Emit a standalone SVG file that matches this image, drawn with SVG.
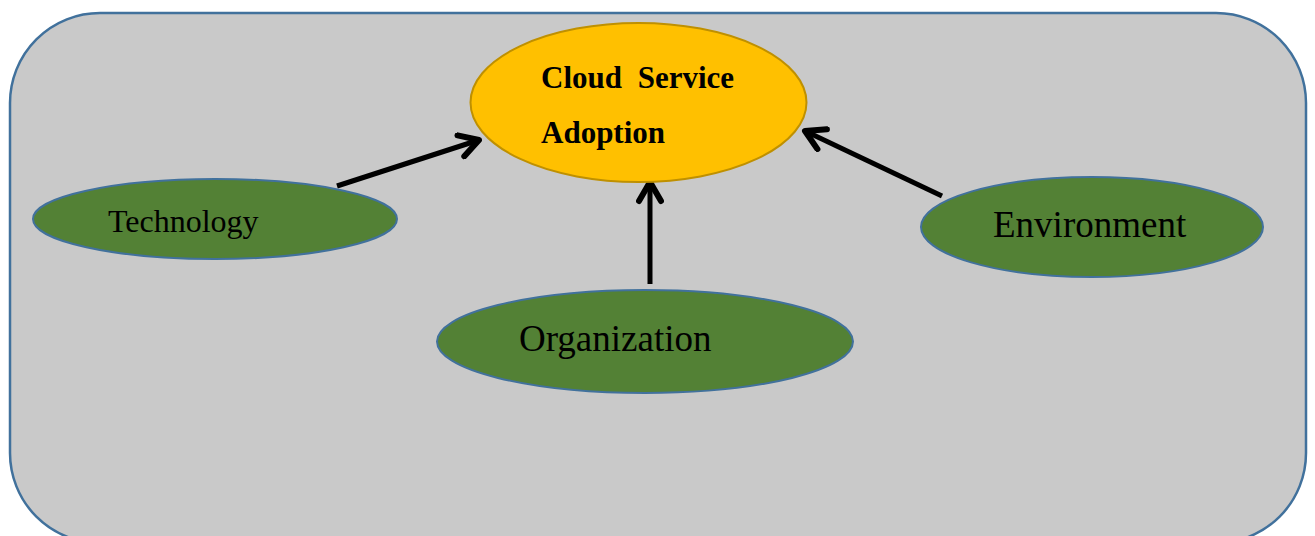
<svg xmlns="http://www.w3.org/2000/svg" width="1315" height="536" viewBox="0 0 1315 536">
<style>
.frame{fill:#c9c9c9;stroke:#41719c;stroke-width:2.5}
.factor{fill:#538135;stroke:#41719c;stroke-width:2}
.core{fill:#ffc000;stroke:#bf9000;stroke-width:2}
.lbl{font-family:"Liberation Serif","Times New Roman",serif;fill:#000}
.b{font-weight:bold}
.conn{stroke:#000;stroke-width:5;fill:none}
</style>
<defs>
<marker id="arr" markerUnits="userSpaceOnUse" viewBox="0 0 28 28" refX="23" refY="14" markerWidth="28" markerHeight="28" orient="auto">
<path d="M4,3 L23,14 L4,25" fill="none" stroke="#000" stroke-width="6" stroke-linecap="round" stroke-linejoin="round"/>
</marker>
</defs>
<rect class="frame" x="10" y="13" width="1296" height="530" rx="90" ry="90"/>
<g id="connectors">
<line class="conn" x1="337" y1="186" x2="479" y2="140" marker-end="url(#arr)"/>
<line class="conn" x1="650" y1="284" x2="650" y2="182" marker-end="url(#arr)"/>
<line class="conn" x1="942" y1="196" x2="805" y2="131" marker-end="url(#arr)"/>
</g>
<g id="cloud-service-adoption">
<ellipse class="core" cx="638.5" cy="102.5" rx="168" ry="79.5"/>
<text class="lbl b" x="541" y="88" font-size="31" word-spacing="8">Cloud Service</text>
<text class="lbl b" x="541" y="143" font-size="31">Adoption</text>
</g>
<g id="technology">
<ellipse class="factor" cx="215" cy="219" rx="182" ry="40"/>
<text class="lbl" x="108" y="232" font-size="32">Technology</text>
</g>
<g id="organization">
<ellipse class="factor" cx="645" cy="341.5" rx="208" ry="51.5"/>
<text class="lbl" x="519" y="351" font-size="37">Organization</text>
</g>
<g id="environment">
<ellipse class="factor" cx="1092" cy="227" rx="171" ry="50"/>
<text class="lbl" x="993" y="237" font-size="37">Environment</text>
</g>
</svg>
